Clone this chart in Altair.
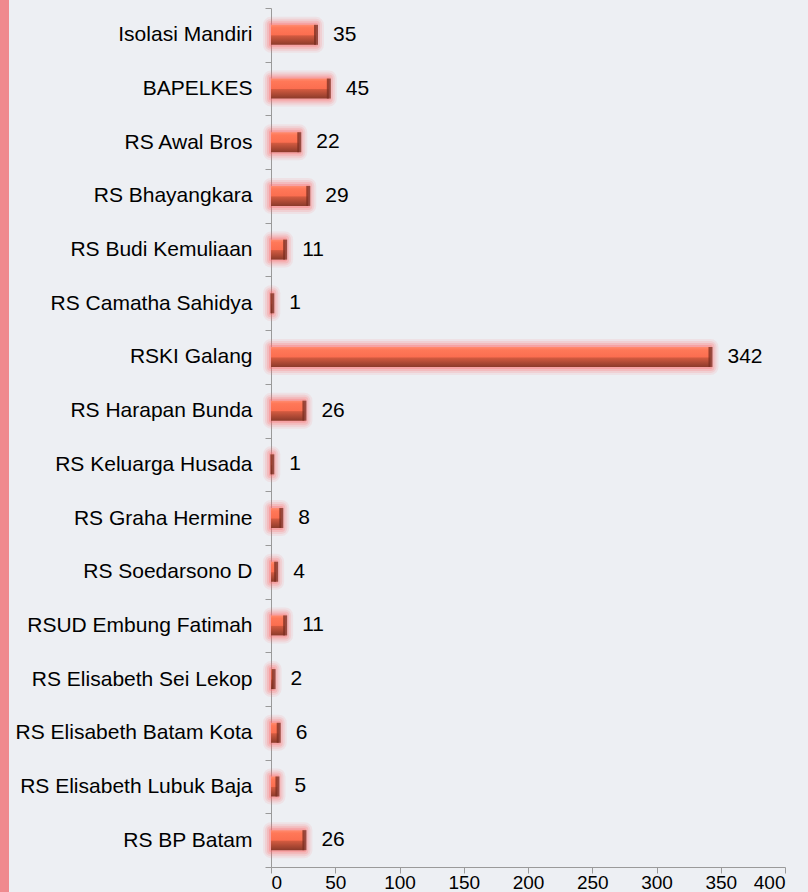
import altair as alt
import pandas as pd

categories = [
    "Isolasi Mandiri", "BAPELKES", "RS Awal Bros", "RS Bhayangkara",
    "RS Budi Kemuliaan", "RS Camatha Sahidya", "RSKI Galang",
    "RS Harapan Bunda", "RS Keluarga Husada", "RS Graha Hermine",
    "RS Soedarsono D", "RSUD Embung Fatimah", "RS Elisabeth Sei Lekop",
    "RS Elisabeth Batam Kota", "RS Elisabeth Lubuk Baja", "RS BP Batam",
]
values = [35, 45, 22, 29, 11, 1, 342, 26, 1, 8, 4, 11, 2, 6, 5, 26]
x_ticks = [0, 50, 100, 150, 200, 250, 300, 350, 400]

df = pd.DataFrame({"cat": categories, "val": values})

FONT = "Liberation Sans"

y_enc = alt.Y("cat:N", sort=categories, title=None,
              scale=alt.Scale(paddingInner=0.0, paddingOuter=0.0),
              axis=alt.Axis(tickBand="extent", labelFontSize=21, labelFont=FONT,
                            labelColor="#000000", labelPadding=13, tickSize=6,
                            tickColor="#9a9a9a", domainColor="#9a9a9a",
                            labelLimit=400))
x_enc = alt.X("val:Q", title=None,
              scale=alt.Scale(domain=[0, 400], nice=False),
              axis=alt.Axis(values=x_ticks, labelFontSize=19, labelFont=FONT,
                            labelColor="#000000", tickSize=6, labelPadding=0,
                            tickColor="#9a9a9a", domainColor="#9a9a9a",
                            grid=False))

base = alt.Chart(df).encode(y=y_enc, x=x_enc)

glow_layers = []
for sw, op in [(16, 0.10), (12, 0.14), (8, 0.2), (4, 0.3)]:
    glow_layers.append(base.mark_bar(size=20, fillOpacity=0, stroke="#ff6a6a",
                                     strokeOpacity=op, strokeWidth=sw,
                                     strokeJoin="round"))

grad = alt.Gradient(
    gradient="linear", x1=0, x2=0, y1=0, y2=1,
    stops=[
        alt.GradientStop(offset=0.0, color="#ff8c70"),
        alt.GradientStop(offset=0.15, color="#ff7858"),
        alt.GradientStop(offset=0.5, color="#fb6e50"),
        alt.GradientStop(offset=0.55, color="#d25a40"),
        alt.GradientStop(offset=1.0, color="#8c3a2a"),
    ],
)
bars = base.mark_bar(size=20, color=grad)
cap = base.mark_tick(orient="vertical", size=20, thickness=4,
                     color="#7a2e20", opacity=0.75)
labels = base.mark_text(align="left", baseline="middle", dx=17,
                        fontSize=21, font=FONT, color="#000000").encode(
    text="val:Q")

stripe1 = alt.Chart(df).mark_rule(color="#f08a8e", strokeWidth=10, opacity=0.45).encode(
    x=alt.value(-267), y=alt.value(-10), y2=alt.value(900))
stripe2 = alt.Chart(df).mark_rule(color="#f08a8e", strokeWidth=5, opacity=0.8).encode(
    x=alt.value(-268), y=alt.value(-10), y2=alt.value(900))

chart = alt.layer(stripe1, stripe2, *glow_layers, bars, cap, labels).properties(
    width=514, height=859,
    autosize=alt.AutoSizeParams(type="none"),
    padding={"left": 271, "top": 8, "right": 23, "bottom": 25},
    background="#edeff3",
).configure_view(stroke=None)

chart.save("out.html", embed_options={"renderer": "svg", "actions": False})
